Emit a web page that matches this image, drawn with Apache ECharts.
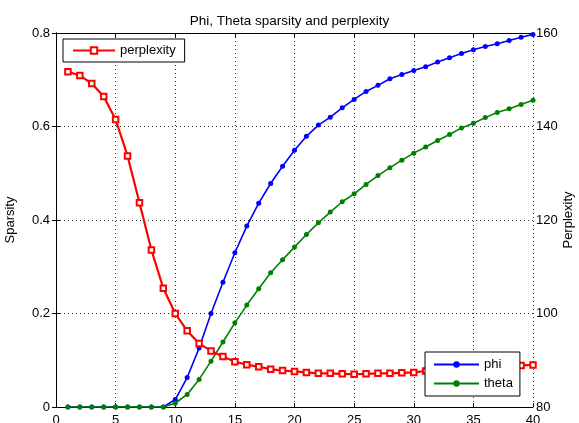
<!DOCTYPE html>
<html><head><meta charset="utf-8">
<script src="https://cdn.jsdelivr.net/npm/echarts@6/dist/echarts.min.js"></script>
<style>html,body{margin:0;padding:0;background:#fff}#c{width:579px;height:423px}</style>
</head><body><div id="c"></div>
<script>
const iterations = [1,2,3,4,5,6,7,8,9,10,11,12,13,14,15,16,17,18,19,20,21,22,23,24,25,26,27,28,29,30,31,32,33,34,35,36,37,38,39,40];
const phi = [0,0,0,0,0,0,0,0,0,0.016,0.063,0.126,0.200,0.267,0.330,0.387,0.436,0.478,0.515,0.549,0.579,0.603,0.620,0.640,0.658,0.675,0.688,0.702,0.711,0.720,0.728,0.738,0.747,0.756,0.764,0.771,0.777,0.784,0.791,0.797];
const theta = [0,0,0,0,0,0,0,0,0,0.008,0.027,0.059,0.098,0.139,0.180,0.218,0.253,0.287,0.315,0.342,0.369,0.394,0.417,0.439,0.456,0.476,0.495,0.512,0.528,0.543,0.556,0.570,0.583,0.597,0.607,0.619,0.630,0.638,0.647,0.656];
const perplexity = [151.7,150.9,149.2,146.4,141.5,133.7,123.7,113.6,105.4,100.0,96.3,93.6,92.0,90.8,89.7,89.05,88.6,88.1,87.8,87.6,87.4,87.2,87.2,87.1,87.0,87.1,87.2,87.2,87.3,87.4,87.7,87.9,88.0,88.2,88.3,88.5,88.6,88.7,88.9,89.0];
const xTicks = [0,5,10,15,20,25,30,35,40];
const leftTicks = [0,0.2,0.4,0.6,0.8];
const rightTicks = [80,100,120,140,160];

const pair = (ys) => iterations.map((x,i)=>[x,ys[i]]);
const font = 'Liberation Sans, Arial, sans-serif';
const chart = echarts.init(document.getElementById('c'), null, {renderer:'canvas'});
const dotted = {show:true, lineStyle:{type:[1,3], color:'#333', width:1}};
const tick = {show:true, inside:true, length:4, lineStyle:{color:'#000'}};
const axLine = {show:true, lineStyle:{color:'#000'}};
chart.setOption({
  animation:false,
  backgroundColor:'#fff',
  title:{text:'Phi, Theta sparsity and perplexity', left:'center', top:9,
    textStyle:{fontFamily:font, fontSize:13.5, fontWeight:'normal', color:'#000'}},
  grid:{left:56, right:46, top:33, bottom:16, containLabel:false, outerBoundsMode:'none'},
  legend:[
    {data:['perplexity'], left:63, top:39, orient:'vertical', backgroundColor:'#fff', borderColor:'#000', borderWidth:1,
     padding:[5,9,5,9], itemWidth:42, itemHeight:8, textStyle:{fontFamily:font, fontSize:13, color:'#000'}},
    {data:['phi','theta'], left:425, top:352, orient:'vertical', backgroundColor:'#fff', borderColor:'#000', borderWidth:1,
     padding:[6,7,6,8], itemGap:6, itemWidth:45, itemHeight:8, textStyle:{fontFamily:font, fontSize:13, color:'#000'}}
  ],
  xAxis:[
    {type:'value', min:0, max:40, interval:5, position:'bottom', axisLine:axLine, axisTick:tick,
     axisLabel:{fontFamily:font, fontSize:13, color:'#000', margin:7, customValues:xTicks}, splitLine:dotted},
    {type:'value', min:0, max:40, interval:5, position:'top', axisLine:axLine, axisTick:tick,
     axisLabel:{show:false}, splitLine:{show:false}}
  ],
  yAxis:[
    {type:'value', min:0, max:0.8, interval:0.2, position:'left', name:'Sparsity', nameLocation:'middle', nameGap:39, nameMoveOverlap:false,
     nameTextStyle:{fontFamily:font, fontSize:13, color:'#000'}, axisLine:axLine, axisTick:tick,
     axisLabel:{fontFamily:font, fontSize:13, color:'#000', margin:6, customValues:leftTicks, formatter:v=>String(Math.round(v*10)/10)}, splitLine:dotted},
    {type:'value', min:80, max:160, interval:20, position:'right', name:'Perplexity', nameLocation:'middle', nameGap:29, nameMoveOverlap:false,
     nameTextStyle:{fontFamily:font, fontSize:13, color:'#000'}, axisLine:axLine, axisTick:tick,
     axisLabel:{fontFamily:font, fontSize:13, color:'#000', margin:3, customValues:rightTicks}, splitLine:{show:false}}
  ],
  series:[
    {name:'perplexity', type:'line', yAxisIndex:1, data:pair(perplexity), symbol:'emptyRect', symbolSize:5.5,
     lineStyle:{color:'#ff0000', width:2.2}, itemStyle:{color:'#ff0000', borderColor:'#ff0000', borderWidth:1.8}, z:3},
    {name:'phi', type:'line', yAxisIndex:0, data:pair(phi), symbol:'circle', symbolSize:5,
     lineStyle:{color:'#0000ff', width:1.6}, itemStyle:{color:'#0000ff'}, z:2},
    {name:'theta', type:'line', yAxisIndex:0, data:pair(theta), symbol:'circle', symbolSize:5,
     lineStyle:{color:'#008000', width:1.6}, itemStyle:{color:'#008000'}, z:2}
  ]
});
</script></body></html>
